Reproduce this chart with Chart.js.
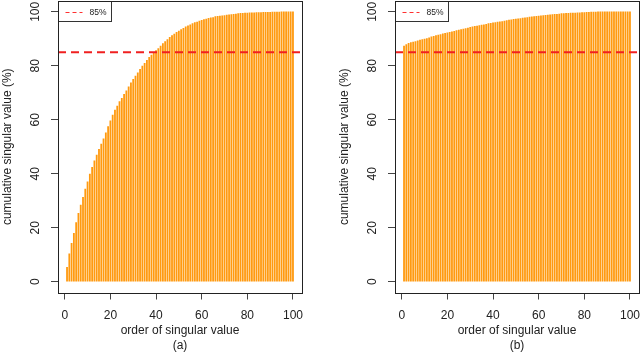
<!DOCTYPE html>
<html lang="en">
<head>
<meta charset="UTF-8">
<title>Cumulative singular value</title>
<script src="https://cdn.jsdelivr.net/npm/chart.js@4.4.1/dist/chart.umd.min.js"></script>
<style>
    body { margin: 0; background: #fff; width: 640px; height: 353px; overflow: hidden; position: relative; }
    canvas { position: absolute; top: 0; }
    #chartA { left: 0; }
    #chartB { left: 320px; }
</style>
</head>
<body>
<canvas id="chartA" width="320" height="353"></canvas>
<canvas id="chartB" width="320" height="353"></canvas>
<script>
    // order of singular value (1..100)
    const order = Array.from({ length: 100 }, (_, i) => i + 1);

    // panel (a)
    const cumA = [5.3, 10.3, 14.2, 17.9, 21.9, 25.3, 28.4, 31.3, 34.3, 37.0,
        39.9, 42.4, 44.8, 46.9, 49.0, 51.0, 52.9, 55.2, 57.5, 59.6,
        61.7, 63.6, 65.1, 66.7, 67.9, 69.4, 70.7, 72.2, 73.7, 75.0,
        76.2, 77.4, 78.7, 79.9, 80.9, 82.0, 83.1, 84.0, 84.8, 85.6,
        86.4, 87.3, 88.2, 89.0, 89.7, 90.5, 91.2, 91.7, 92.4, 92.9,
        93.4, 93.9, 94.4, 94.8, 95.2, 95.6, 96.0, 96.2, 96.6, 96.8,
        97.1, 97.3, 97.6, 97.8, 97.9, 98.2, 98.3, 98.4, 98.5, 98.6,
        98.8, 98.9, 99.0, 99.1, 99.2, 99.3, 99.4, 99.4, 99.5, 99.5,
        99.6, 99.6, 99.6, 99.7, 99.7, 99.7, 99.8, 99.8, 99.8, 99.8,
        99.85, 99.9, 99.9, 99.9, 99.95, 99.95, 100, 100, 100, 100];

    // panel (b)
    const cumB = [87.3, 87.9, 88.3, 88.6, 88.8, 89.0, 89.2, 89.5, 89.7, 89.9,
        90.1, 90.4, 90.7, 90.9, 91.2, 91.4, 91.6, 91.8, 92.0, 92.2,
        92.4, 92.6, 92.8, 93.0, 93.2, 93.4, 93.6, 93.8, 94.0, 94.2,
        94.4, 94.6, 94.7, 94.9, 95.1, 95.2, 95.4, 95.6, 95.7, 95.9,
        96.0, 96.2, 96.3, 96.4, 96.6, 96.7, 96.9, 97.0, 97.2, 97.3,
        97.4, 97.5, 97.7, 97.8, 97.9, 98.0, 98.1, 98.2, 98.3, 98.4,
        98.5, 98.6, 98.7, 98.8, 98.9, 99.0, 99.1, 99.1, 99.2, 99.3,
        99.3, 99.4, 99.4, 99.5, 99.5, 99.5, 99.6, 99.6, 99.7, 99.7,
        99.8, 99.8, 99.9, 99.9, 99.9, 100, 100, 100, 100, 100,
        100, 100, 100, 100, 100, 100, 100, 100, 100, 100];

    const xTicks = [0, 20, 40, 60, 80, 100];
    const yTicks = [0, 20, 40, 60, 80, 100];
    const threshold = 85;
    const thresholdLabel = '85%';
    const xTitle = 'order of singular value';
    const yTitle = 'cumulative singular value (%)';

    const FONT = 'Liberation Sans, Arial, sans-serif';

    // R-style frame, dashed 85% line and the little legend box
    const rFrame = {
        id: 'rFrame',
        afterDatasetsDraw(chart) {
            const { ctx, chartArea: a, scales: { y } } = chart;
            ctx.save();

            const ty = y.getPixelForValue(threshold);
            ctx.strokeStyle = '#f02020';
            ctx.lineWidth = 2;
            ctx.setLineDash([8, 5]);
            ctx.beginPath();
            ctx.moveTo(a.left, ty);
            ctx.lineTo(a.right, ty);
            ctx.stroke();
            ctx.setLineDash([]);

            // legend
            const lx = Math.floor(a.left) + 0.5, ly = Math.floor(a.top) + 0.5;
            ctx.strokeStyle = '#333';
            ctx.lineWidth = 1;
            ctx.strokeRect(lx, ly, 53, 20);
            ctx.strokeStyle = '#ff3030';
            ctx.setLineDash([4, 3]);
            ctx.beginPath();
            ctx.moveTo(lx + 7, ly + 11);
            ctx.lineTo(lx + 24, ly + 11);
            ctx.stroke();
            ctx.setLineDash([]);
            ctx.fillStyle = '#222';
            ctx.font = '8.5px ' + FONT;
            ctx.textBaseline = 'middle';
            ctx.fillText(thresholdLabel, lx + 31, ly + 11);

            // box
            ctx.strokeStyle = '#222';
            ctx.strokeRect(Math.floor(a.left) + 0.5, Math.floor(a.top) + 0.5,
                Math.round(a.right - a.left), Math.round(a.bottom - a.top));
            ctx.restore();
        }
    };

    function makeChart(id, values, panel, padLeft, padRight) {
        const ctx = document.getElementById(id).getContext('2d');
        return new Chart(ctx, {
            type: 'bar',
            data: {
                datasets: [{
                    data: order.map((o, i) => ({ x: o, y: values[i] })),
                    backgroundColor: '#ff9a10',
                    barThickness: 1.15
                }]
            },
            options: {
                responsive: false,
                animation: false,
                devicePixelRatio: 1,
                layout: { padding: { top: 1, left: padLeft, right: padRight, bottom: 0 } },
                plugins: { legend: { display: false }, tooltip: { enabled: false } },
                scales: {
                    x: {
                        type: 'linear',
                        min: -2.96,
                        max: 103.96,
                        offset: false,
                        afterBuildTicks: s => { s.ticks = xTicks.map(v => ({ value: v })); },
                        afterFit: s => { s.height = 60.5; s.paddingLeft = 0; s.paddingRight = 0; },
                        grid: { offset: false, drawOnChartArea: false, tickLength: 7, color: '#444' },
                        border: { display: false },
                        ticks: { color: '#222', font: { family: FONT, size: 12 }, padding: 9, maxRotation: 0 },
                        title: {
                            display: true,
                            text: [xTitle, panel],
                            color: '#222',
                            font: { family: FONT, size: 12, lineHeight: 1.25 },
                            padding: { top: 0, bottom: 0 }
                        }
                    },
                    y: {
                        min: -4,
                        max: 104,
                        afterBuildTicks: s => { s.ticks = yTicks.map(v => ({ value: v })); },
                        afterFit: s => { s.width = 58; s.paddingTop = 0; s.paddingBottom = 0; },
                        grid: { drawOnChartArea: false, tickLength: 7, color: '#444' },
                        border: { display: false },
                        ticks: {
                            color: '#222', font: { family: FONT, size: 12 },
                            minRotation: 90, maxRotation: 90, crossAlign: 'center', padding: 5
                        },
                        title: {
                            display: true,
                            text: yTitle,
                            color: '#222',
                            font: { family: FONT, size: 12, lineHeight: 1.25 },
                            padding: { top: 0, bottom: 0 }
                        }
                    }
                }
            },
            plugins: [rFrame]
        });
    }

    makeChart('chartA', cumA, '(a)', 0, 18);
    makeChart('chartB', cumB, '(b)', 17, 1);
</script>
</body>
</html>
